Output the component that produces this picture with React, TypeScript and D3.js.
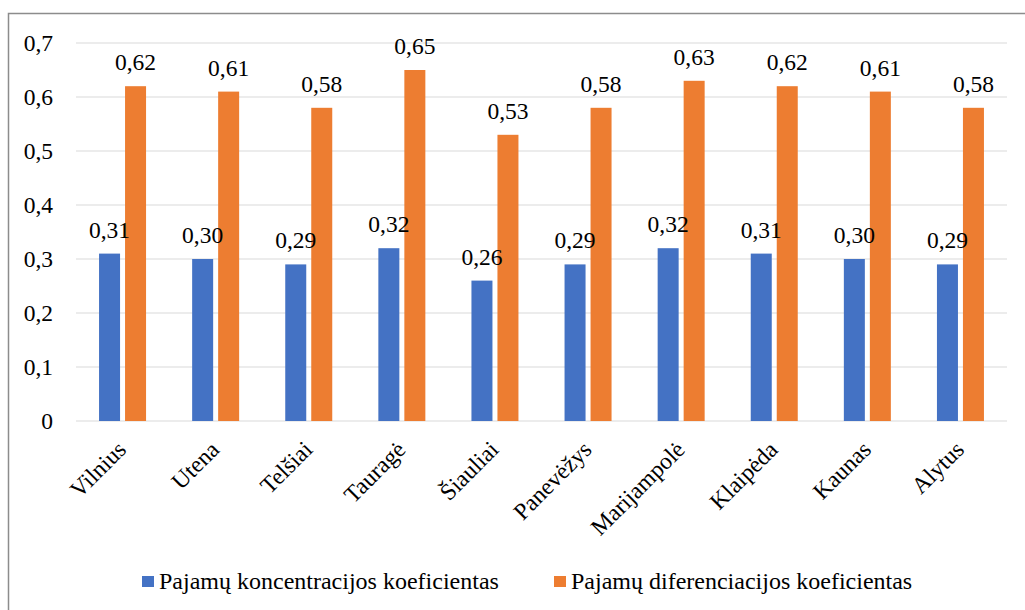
import React from "react";
import * as d3 from "d3";

const categories = ["Vilnius", "Utena", "Telšiai", "Tauragė", "Šiauliai", "Panevėžys", "Marijampolė", "Klaipėda", "Kaunas", "Alytus"];
const concentration = [0.31, 0.30, 0.29, 0.32, 0.26, 0.29, 0.32, 0.31, 0.30, 0.29];
const differentiation = [0.62, 0.61, 0.58, 0.65, 0.53, 0.58, 0.63, 0.62, 0.61, 0.58];
const yTicks = [0, 0.1, 0.2, 0.3, 0.4, 0.5, 0.6, 0.7];
const seriesNames = ["Pajamų koncentracijos koeficientas", "Pajamų diferenciacijos koeficientas"];
const colors = ["#4472C4", "#ED7D31"];

const W = 1025, H = 610;
const plotLeft = 76, plotRight = 1007, plotTop = 43, plotBottom = 421;
const family = "\"Liberation Serif\", \"Times New Roman\", serif";
const txt: React.CSSProperties = { fontFamily: family, fontSize: "23.5px" };
const legTxt: React.CSSProperties = { fontFamily: family, fontSize: "24px" };

const fmt = (v: number, d: number) => v.toFixed(d).replace(".", ",");

export default function App() {
  const x = d3.scaleBand<string>().domain(categories).range([plotLeft, plotRight]).paddingInner(0).paddingOuter(0);
  const y = d3.scaleLinear().domain([0, 0.7]).range([plotBottom, plotTop]);
  const barW = 21, gap = 5;
  const series = [concentration, differentiation];
  const cxOf = (c: string) => (x(c) as number) + x.bandwidth() / 2;
  const bxOf = (c: string, j: number) => (j === 0 ? cxOf(c) - gap / 2 - barW : cxOf(c) + gap / 2);
  return (
    <svg width={W} height={H} style={{ position: "absolute", left: 0, top: 0 }}>
      <rect x={0} y={0} width={W} height={H} fill="#fff" />
      <rect x={8.5} y={13.5} width={W + 20} height={H + 20} fill="none" stroke="#8c8c8c" strokeWidth={1.5} />
      {yTicks.map((t) => (
        <g key={t}>
          <line x1={plotLeft} x2={plotRight} y1={y(t)} y2={y(t)} stroke="#d9d9d9" strokeWidth={1.2} />
          <text x={53} y={y(t) + 8} textAnchor="end" style={txt} fill="#000">{t === 0 ? "0" : fmt(t, 1)}</text>
        </g>
      ))}
      {categories.map((c, i) => (
        <g key={c}>
          {series.map((s, j) => (
            <rect key={j} x={bxOf(c, j)} y={y(s[i])} width={barW} height={plotBottom - y(s[i])} fill={colors[j]} />
          ))}
          <text transform={`translate(${cxOf(c) + 5},${plotBottom + 30}) rotate(-45)`} textAnchor="end" style={txt} fill="#000">{c}</text>
        </g>
      ))}
      {categories.map((c, i) => (
        <g key={c + "-lbl"}>
          {series.map((s, j) => (
            <text key={j} x={bxOf(c, j) + barW / 2} y={y(s[i]) - 16} textAnchor="middle" style={txt} fill="#000">{fmt(s[i], 2)}</text>
          ))}
        </g>
      ))}
      {seriesNames.map((n, j) => {
        const lx = j === 0 ? 142 : 554;
        return (
          <g key={n}>
            <rect x={lx} y={576} width={12} height={11} fill={colors[j]} />
            <text x={lx + 17} y={589} style={legTxt} fill="#000">{n}</text>
          </g>
        );
      })}
    </svg>
  );
}
